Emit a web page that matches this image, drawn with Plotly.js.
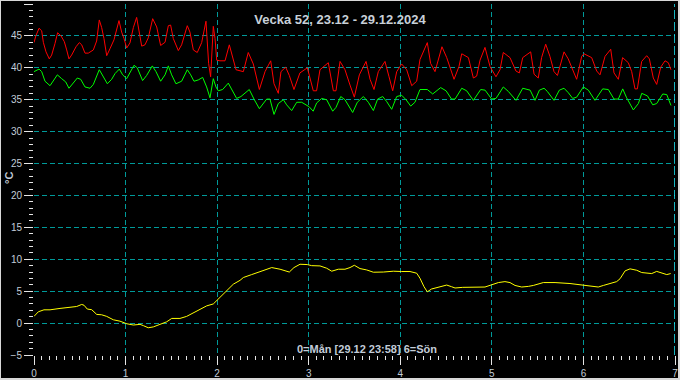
<!DOCTYPE html>
<html>
<head>
<meta charset="utf-8">
<script src="https://cdn.plot.ly/plotly-3.0.1.min.js"></script>
<style>
  html, body { margin:0; padding:0; background:#000; }
  #wrap { position:relative; width:680px; height:380px; overflow:hidden; }
  #chart { position:absolute; left:0; top:0; width:680px; height:380px; }
  #frame { position:absolute; left:0; top:0; width:680px; height:380px; box-sizing:border-box;
           border:1px solid #d8d8d8; border-right:2px solid #d8d8d8; border-bottom:2px solid #d8d8d8; pointer-events:none; }
</style>
</head>
<body>
<div id="wrap"><div id="chart"></div><div id="frame"></div></div>
<script>
// ---- Data (x = day of week, 0 = Monday) ----
const redX = [0.000,0.020,0.055,0.084,0.102,0.131,0.167,0.193,0.229,0.258,0.295,0.331,0.357,0.382,0.411,0.459,0.495,0.521,0.557,0.593,0.648,0.684,0.713,0.739,0.764,0.794,0.830,0.874,0.928,0.957,0.983,1.012,1.048,1.085,1.121,1.150,1.176,1.212,1.248,1.296,1.340,1.383,1.431,1.467,1.492,1.521,1.576,1.612,1.674,1.703,1.740,1.783,1.831,1.878,1.893,1.907,1.929,1.943,1.958,1.977,1.995,2.031,2.086,2.133,2.170,2.206,2.286,2.340,2.395,2.461,2.523,2.585,2.621,2.668,2.697,2.748,2.788,2.839,2.904,2.985,3.050,3.086,3.123,3.214,3.269,3.298,3.342,3.396,3.451,3.498,3.553,3.626,3.670,3.713,3.760,3.833,3.877,3.917,3.961,4.015,4.070,4.125,4.179,4.215,4.295,4.331,4.379,4.455,4.507,4.587,4.641,4.671,4.744,4.798,4.834,4.871,4.925,4.980,5.045,5.089,5.125,5.198,5.263,5.300,5.337,5.424,5.461,5.507,5.543,5.588,5.634,5.679,5.716,5.788,5.834,5.926,5.981,6.006,6.090,6.145,6.181,6.236,6.298,6.334,6.381,6.428,6.490,6.527,6.563,6.589,6.636,6.691,6.720,6.763,6.800,6.844,6.891,6.927,6.956];
const redY = [43.95,45.0,46.2,45.8,44.0,42.5,41.4,42.0,43.8,45.5,45.0,44.1,42.8,41.4,42.0,43.3,43.95,43.6,42.3,42.3,42.8,44.2,47.5,46.3,44.6,41.9,43.0,44.4,47.4,45.6,44.6,43.1,43.9,46.3,47.9,45.6,43.4,43.6,44.7,47.7,46.4,43.5,44.0,46.6,46.7,44.6,42.7,43.6,46.6,45.6,42.8,42.4,43.95,47.3,44.3,40.7,38.6,43.3,46.5,44.6,41.2,41.1,41.1,43.6,41.6,39.7,39.4,42.4,40.6,36.6,39.4,41.1,37.5,36.0,39.4,40.1,38.8,36.6,39.2,40.0,36.4,36.4,39.7,40.8,36.4,36.4,41.0,39.7,37.3,35.4,38.9,41.0,38.2,36.6,39.4,41.0,38.6,36.4,39.4,40.6,39.7,37.2,37.9,41.3,43.95,40.7,39.4,43.3,41.6,38.2,40.2,42.2,41.6,38.4,38.7,41.2,43.2,40.2,38.6,39.7,42.4,41.6,39.5,39.2,41.6,42.5,39.0,38.4,41.6,43.7,41.8,39.4,38.8,42.5,41.4,38.2,41.8,42.2,41.6,39.5,38.9,41.8,42.9,39.2,38.2,41.6,40.8,39.4,36.7,36.7,41.0,41.9,41.4,38.4,37.4,40.1,41.1,40.8,39.7];

const greenX = [0.000,0.055,0.084,0.120,0.175,0.211,0.255,0.302,0.346,0.382,0.430,0.473,0.510,0.557,0.612,0.648,0.713,0.757,0.801,0.848,0.885,0.932,0.968,1.012,1.048,1.092,1.128,1.186,1.230,1.292,1.332,1.383,1.431,1.467,1.503,1.550,1.612,1.674,1.711,1.747,1.794,1.842,1.885,1.922,1.958,1.987,2.012,2.060,2.122,2.170,2.213,2.260,2.351,2.406,2.461,2.541,2.577,2.621,2.668,2.723,2.759,2.814,2.869,2.923,3.005,3.049,3.087,3.142,3.196,3.262,3.298,3.350,3.396,3.480,3.531,3.597,3.651,3.706,3.753,3.808,3.852,3.906,3.961,4.015,4.063,4.114,4.160,4.215,4.295,4.354,4.441,4.500,4.560,4.598,4.671,4.725,4.798,4.878,4.926,4.998,5.045,5.125,5.180,5.264,5.337,5.418,5.471,5.519,5.570,5.606,5.679,5.737,5.788,5.835,5.883,5.926,5.999,6.054,6.126,6.210,6.272,6.334,6.381,6.429,6.472,6.545,6.600,6.637,6.699,6.757,6.800,6.866,6.910,6.956];
const greenY = [39.4,39.8,39.4,37.9,37.2,37.9,38.9,38.3,37.8,36.8,37.6,38.4,38.2,37.0,36.8,37.4,39.7,38.6,37.5,38.2,39.1,39.8,38.9,38.3,39.2,40.4,40.0,38.0,38.8,40.3,39.4,37.9,38.9,40.3,38.9,37.5,37.9,39.7,38.9,37.9,38.1,38.5,37.0,35.3,38.3,37.0,36.4,36.6,37.6,36.3,35.2,35.5,36.6,35.0,33.6,35.1,35.1,32.7,34.4,35.0,34.2,33.3,34.6,34.6,33.9,33.2,34.5,35.2,35.0,33.2,33.8,35.5,35.0,33.0,34.6,35.5,34.6,33.3,35.1,35.5,34.7,33.5,35.5,35.7,35.0,34.0,34.6,36.6,36.6,35.9,36.9,36.4,35.1,35.1,36.8,36.4,34.9,36.6,36.5,35.1,35.2,37.0,36.3,34.9,36.8,36.5,34.9,36.5,36.8,36.3,34.9,36.5,36.8,36.1,35.2,35.4,37.0,36.5,34.9,36.7,36.6,35.1,35.1,36.7,35.3,33.4,34.4,36.0,35.6,34.2,34.4,35.9,35.8,34.1];

const yellowX = [0.000,0.047,0.109,0.175,0.284,0.375,0.466,0.521,0.546,0.582,0.630,0.685,0.739,0.794,0.866,0.939,1.012,1.085,1.158,1.194,1.248,1.303,1.376,1.449,1.504,1.594,1.667,1.740,1.813,1.886,1.958,2.013,2.060,2.122,2.177,2.250,2.286,2.377,2.486,2.596,2.687,2.788,2.839,2.905,2.985,3.032,3.123,3.196,3.251,3.323,3.396,3.451,3.498,3.560,3.633,3.706,3.815,3.924,4.015,4.106,4.179,4.215,4.259,4.295,4.341,4.415,4.507,4.560,4.598,4.682,4.800,4.925,4.998,5.071,5.143,5.198,5.253,5.326,5.398,5.453,5.562,5.690,5.853,5.963,6.072,6.162,6.218,6.290,6.363,6.400,6.455,6.509,6.582,6.637,6.746,6.800,6.855,6.910,6.953];
const yellowY = [1.05,1.77,2.08,2.08,2.3,2.45,2.6,2.92,2.8,2.2,2.1,1.36,1.3,1.05,0.52,0.3,-0.1,-0.3,-0.2,-0.4,-0.73,-0.6,-0.2,0.2,0.73,0.73,1.05,1.56,2.08,2.7,3.0,3.75,4.4,5.2,6.1,6.7,7.14,7.6,8.18,8.7,8.44,8.0,8.7,9.22,9.17,9.0,8.96,8.6,8.13,8.44,8.44,8.7,9.06,8.54,8.33,7.97,8.0,8.13,8.08,8.08,7.82,7.03,5.7,4.9,5.34,5.6,5.96,5.7,5.5,5.6,5.6,5.65,6.0,6.35,6.5,6.35,5.9,5.65,5.75,5.9,6.35,6.35,6.2,6.0,5.8,5.65,5.9,6.25,6.5,6.95,8.18,8.5,8.28,7.92,7.76,8.1,7.9,7.6,7.76];

const titleText = 'Vecka 52, 23.12 - 29.12.2024';
const xLabelText = '0=Mån [29.12 23:58] 6=Sön';
const yLabelText = '°C';

const FONT = 'Liberation Sans, Arial, sans-serif';
const LABEL = '#c2ccd8';
const GRID = '#009a9a';
const TICK = '#e6e6e6';

function line(x, y, color) {
  return { x: x, y: y, type: 'scatter', mode: 'lines', line: { color: color, width: 1 }, hoverinfo: 'skip' };
}

const data = [
  line(yellowX, yellowY, '#ffff00'),
  line(greenX, greenY, '#00ff00'),
  line(redX, redY, '#ff0000')
];

const axisCommon = {
  showgrid: true, gridcolor: GRID, gridwidth: 1, griddash: '5px,3px',
  zeroline: false, showline: false,
  ticks: 'outside', ticklen: 9, tickwidth: 1, tickcolor: TICK,
  tickfont: { family: FONT, size: 10, color: LABEL },
  fixedrange: true
};
const minorCommon = { ticks: 'outside', ticklen: 4, tickwidth: 1, tickcolor: TICK,
  showgrid: false, gridcolor: GRID, griddash: '5px,3px', gridwidth: 1 };

const layout = {
  width: 680, height: 380,
  paper_bgcolor: '#000', plot_bgcolor: '#000',
  margin: { l: 34, r: 5, t: 4, b: 25, pad: 0 },
  showlegend: false,
  font: { family: FONT, color: LABEL, size: 10 },
  title: { text: '<b>' + titleText + '</b>', xref: 'container', x: 0.5, xanchor: 'center',
           yref: 'container', y: 1 - 19/380, yanchor: 'middle',
           font: { family: FONT, size: 13, color: '#c8d0d8' } },
  xaxis: Object.assign({}, axisCommon, {
    range: [0, 7], tick0: 0, dtick: 1,
    minor: Object.assign({ dtick: 1/12, tick0: 0 }, minorCommon)
  }),
  yaxis: Object.assign({}, axisCommon, {
    range: [-5, 50], tick0: 0, dtick: 5,
    minor: Object.assign({ dtick: 1, tick0: 0 }, minorCommon)
  }),
  shapes: [
    { type: 'line', xref: 'x', yref: 'paper', x0: 7, x1: 7, y0: 0, y1: 1,
      line: { color: '#20f0ff', width: 1.5, dash: '9px,3px' }, layer: 'above' }
  ],
  annotations: [
    { text: '<b>' + xLabelText + '</b>', xref: 'paper', yref: 'paper',
      x: (366.5 - 34) / 641, y: (355 - 349) / 351, xanchor: 'center', yanchor: 'middle',
      showarrow: false, font: { family: FONT, size: 11, color: LABEL } },
    { text: '<b>' + yLabelText + '</b>', xref: 'paper', yref: 'paper',
      x: (9 - 34) / 641, y: (355 - 178) / 351, xanchor: 'center', yanchor: 'middle',
      textangle: -90, showarrow: false, font: { family: FONT, size: 11, color: LABEL } }
  ]
};

Plotly.newPlot('chart', data, layout, { displayModeBar: false, staticPlot: true });
</script>
</body>
</html>
